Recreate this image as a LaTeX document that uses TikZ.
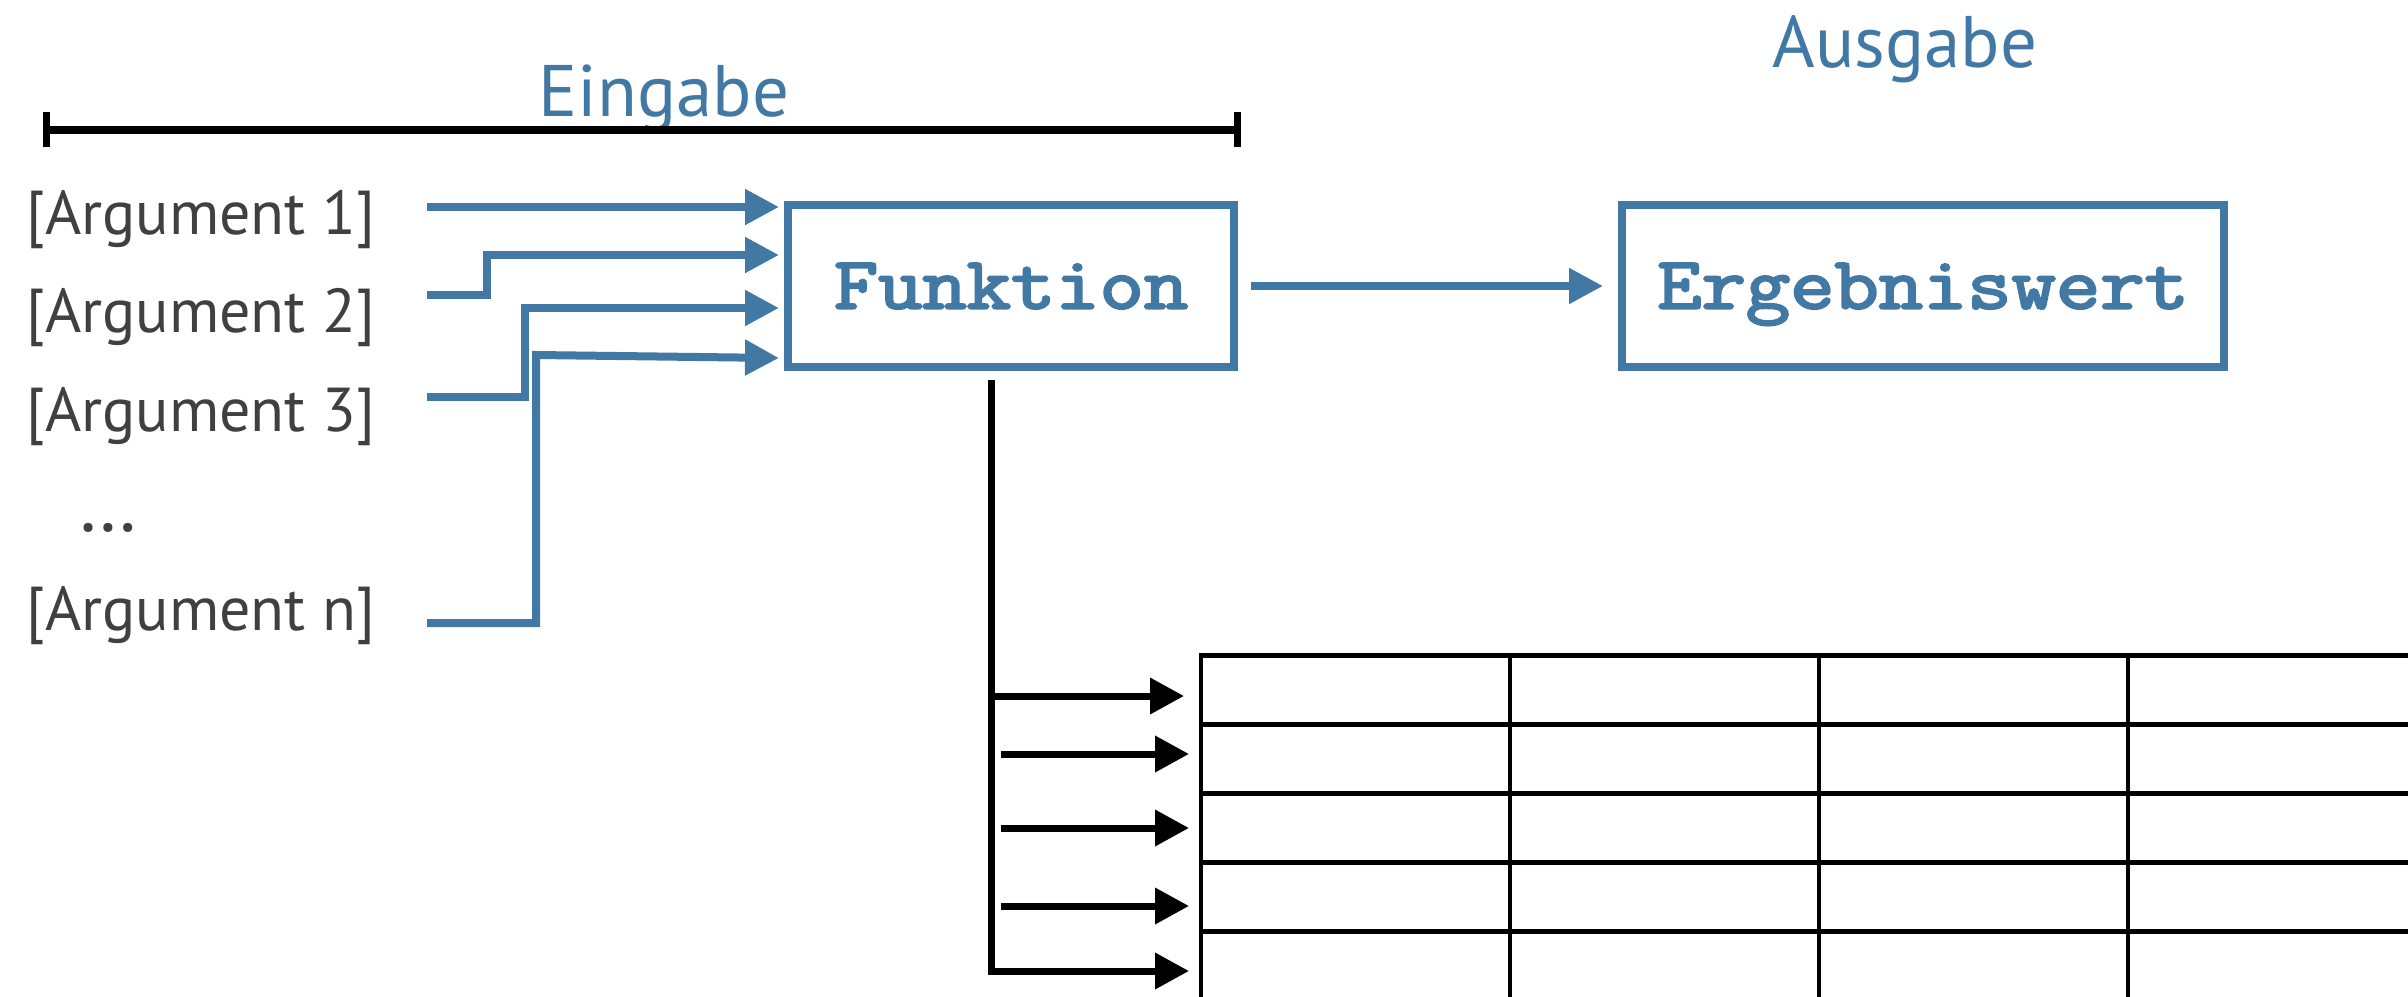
\documentclass[tikz,border=0pt]{standalone}
\usepackage{fontspec}
\setmainfont{PT Sans}
\newfontfamily\codefont[FakeBold=3]{Latin Modern Mono}
\usetikzlibrary{arrows.meta}
\definecolor{fnblue}{RGB}{66,120,164}
\definecolor{argtext}{RGB}{64,64,64}
% heavy slab-serif monospace label, squeezed vertically to a Courier-like cap height
\newcommand{\codelabel}[1]{\scalebox{1}[0.86]{\codefont\fontsize{86}{92}\selectfont #1}}

\begin{document}
\begin{tikzpicture}[x=1pt,y=-1pt,
  heading/.style={text=fnblue,inner sep=0pt,anchor=base,font=\fontsize{73}{80}\selectfont},
  arglabel/.style={text=argtext,inner sep=0pt,anchor=base west,font=\fontsize{62}{68}\selectfont},
  fnbox/.style={draw=fnblue,line width=8pt,inner sep=0pt,minimum height=162pt,
    text=fnblue,text height=45pt,text depth=0pt},
  flow/.style={draw=fnblue,line width=8pt,-{Triangle[length=34pt,width=34pt]}},
  rowflow/.style={draw=black,line width=7pt,-{Triangle[length=34pt,width=35pt]}},
  hrule/.style={draw=black,line width=5pt},
  vrule/.style={draw=black,line width=4pt}]

\useasboundingbox (0,0) rectangle (2408,996);

% headings
\node[heading] (eingabe) at (664,116) {Eingabe};
\node[heading] (ausgabe) at (1905,67) {Ausgabe};

% span bracket over the inputs
\coordinate (brL) at (46,130);
\coordinate (brR) at (1237,130);
\draw[line width=8pt] (brL) -- (brR);
\draw[line width=7pt] ([yshift=-17pt]brL) -- ([yshift=18pt]brL);
\draw[line width=7pt] ([yshift=-17pt]brR) -- ([yshift=18pt]brR);

% argument labels
\node[arglabel] (arg1) at (26,234) {[Argument 1]};
\node[arglabel] (arg2) at (26,332) {[Argument 2]};
\node[arglabel] (arg3) at (26,431) {[Argument 3]};
\node[arglabel,font=\fontsize{78}{84}\selectfont] (dots) at (78,531) {…};
\node[arglabel] (argn) at (26,630) {[Argument n]};

% function and result
\node[fnbox,minimum width=446pt] (fun) at (1011,286) {\codelabel{Funktion}};
\node[fnbox,minimum width=602pt] (erg) at (1923,286) {\codelabel{Ergebniswert}};

% argument wires
\coordinate (s1) at (427,207);
\coordinate (s2) at (427,295);
\coordinate (s3) at (427,397);
\coordinate (sn) at (427,623);
\coordinate (t1) at (779,207);
\coordinate (t2) at (779,255);
\coordinate (t3) at (779,308);
\coordinate (tn) at (779,358);

\draw[flow] (s1) -- (t1);
\draw[flow] (s2) -- (487,295) -- (487,255) -- (t2);
\draw[flow] (s3) -- (525,397) -- (525,308) -- (t3);
\draw[flow] (sn) -- (536,623) -- (536,355) -- (tn);

% function to result
\draw[flow,shorten <=13pt,shorten >=15pt] (fun.east) -- (erg.west);

% table of rows fed by the function
\coordinate (tap) at (991,380);
\coordinate (r1) at (1184,696);
\coordinate (r2) at (1189,754);
\coordinate (r3) at (1189,828);
\coordinate (r4) at (1189,906);
\coordinate (r5) at (1189,971);

\draw[rowflow] (tap) -- (991,971) -- (r5);
\draw[rowflow] (988,696) -- (r1);
\draw[rowflow] (1001,754) -- (r2);
\draw[rowflow] (1001,828) -- (r3);
\draw[rowflow] (1001,906) -- (r4);

\foreach \y in {655,724,793,862,931}
  \draw[hrule] (1199,\y) -- (2412,\y);
\foreach \x in {1201,1510,1819,2128}
  \draw[vrule] (\x,653) -- (\x,1000);
\end{tikzpicture}
\end{document}
